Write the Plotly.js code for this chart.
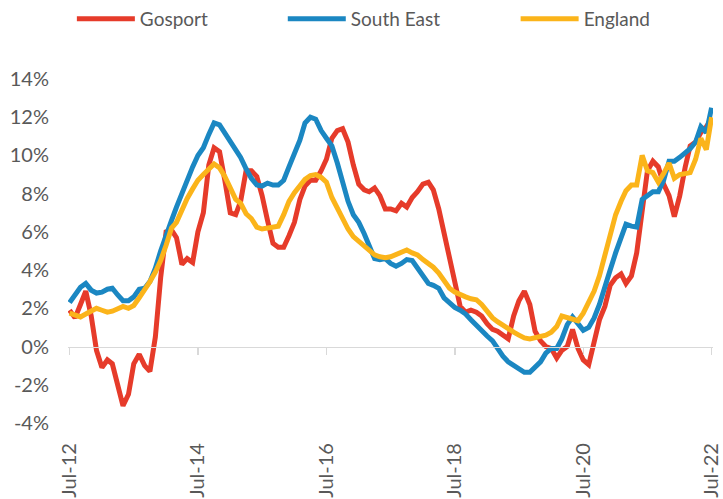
<!DOCTYPE html>
<html><head><meta charset="utf-8">
<script src="https://cdn.plot.ly/plotly-3.0.1.min.js"></script>
<style>html,body{margin:0;padding:0;background:#fff;} #chart{width:723px;height:499px;}</style>
</head><body><div id="chart"></div>
<script>
// Monthly categories Jul-2012 .. Jul-2022
const startYear = 2012, startMonth = 7, nMonths = 121;
const months = [];
for (let k = 0; k < nMonths; k++) {
  const m0 = startMonth - 1 + k;
  const y = startYear + Math.floor(m0 / 12);
  const m = (m0 % 12) + 1;
  months.push(y + '-' + String(m).padStart(2, '0') + '-01');
}

const gosport = [1.9,1.5,2.2,2.9,1.6,-0.2,-1.1,-0.7,-0.9,-2.0,-3.1,-2.5,-0.9,-0.4,-1.0,-1.3,0.5,3.6,6.0,6.1,
  5.7,4.3,4.6,4.4,6.0,7.0,9.5,10.4,10.2,8.7,7.0,6.9,7.6,9.2,9.2,8.9,7.9,6.6,5.4,5.2,
  5.2,5.8,6.5,7.7,8.4,8.7,8.7,9.2,9.8,10.9,11.3,11.4,10.7,9.5,8.5,8.2,8.1,8.3,7.9,7.2,
  7.2,7.1,7.5,7.3,7.8,8.1,8.5,8.6,8.2,7.2,6.0,4.6,3.3,2.1,1.8,1.9,1.8,1.6,1.2,0.9,
  0.8,0.6,0.4,1.6,2.4,2.9,2.2,0.8,0.3,0.0,-0.1,-0.6,-0.2,0.0,0.9,-0.1,-0.7,-0.95,0.2,1.4,
  2.1,3.2,3.6,3.8,3.3,3.7,4.9,6.9,9.2,9.7,9.4,8.5,7.9,6.8,7.9,9.4,10.5,10.7,11.2,11.5,11.9];

const southEast = [2.3,2.7,3.1,3.3,2.95,2.8,2.85,3.0,3.05,2.7,2.4,2.4,2.6,3.0,3.05,3.4,4.1,5.0,5.9,6.6,
  7.3,8.0,8.8,9.4,10.0,10.4,11.1,11.7,11.6,11.2,10.7,10.3,9.9,9.3,8.8,8.45,8.4,8.55,8.45,8.45,
  8.7,9.4,10.1,10.8,11.7,12.0,11.9,11.3,10.9,10.5,9.6,8.5,7.6,6.9,6.5,5.9,5.2,4.6,4.55,4.6,
  4.35,4.2,4.35,4.55,4.5,4.1,3.6,3.3,3.2,3.05,2.55,2.3,2.05,1.9,1.7,1.4,1.1,0.8,0.55,0.3,
  -0.1,-0.5,-0.8,-1.0,-1.2,-1.35,-1.35,-1.1,-0.8,-0.35,-0.1,-0.1,0.4,1.15,1.55,1.2,0.85,1.0,1.5,2.2,
  3.2,4.0,4.9,5.6,6.4,6.3,6.25,7.7,7.9,8.1,8.1,8.7,9.7,9.7,9.9,10.1,10.35,10.7,11.5,11.2,12.5];

const england = [1.75,1.65,1.55,1.7,1.85,2.0,1.9,1.8,1.85,1.95,2.1,2.0,2.15,2.55,2.95,3.4,3.9,4.5,5.3,6.2,
  6.5,7.2,7.75,8.25,8.7,9.0,9.3,9.55,9.35,8.9,8.3,7.7,7.5,6.95,6.7,6.25,6.15,6.2,6.2,6.3,
  6.9,7.6,8.05,8.4,8.75,8.95,9.0,8.85,8.6,7.8,7.2,6.6,6.15,5.75,5.5,5.3,5.0,4.8,4.7,4.65,
  4.7,4.8,4.9,5.05,4.9,4.8,4.55,4.35,4.15,3.85,3.5,3.05,2.85,2.7,2.6,2.5,2.45,2.2,1.8,1.5,
  1.3,1.1,0.95,0.75,0.6,0.45,0.4,0.45,0.5,0.6,0.75,1.05,1.6,1.5,1.4,1.35,1.75,2.3,2.9,3.7,
  4.8,5.8,6.9,7.6,8.15,8.45,8.45,10.0,9.2,9.1,8.6,9.05,9.6,8.8,9.0,9.05,9.1,9.8,10.9,10.3,12.0];

const seriesNames = ['Gosport', 'South East', 'England'];
const seriesColors = ['#e63b2a', '#1b87c2', '#fbb41a'];
const xTickVals = ['2012-07-01','2014-07-01','2016-07-01','2018-07-01','2020-07-01','2022-07-01'];
const xTickText = ['Jul-12','Jul-14','Jul-16','Jul-18','Jul-20','Jul-22'];
const yTickVals = [-4,-2,0,2,4,6,8,10,12,14];
const yTickText = ['-4%','-2%','0%','2%','4%','6%','8%','10%','12%','14%'];

const seriesData = [gosport, southEast, england];
const legendIds = ['legend', 'legend2', 'legend3'];
const traces = seriesData.map((vals, i) => ({
  type: 'scatter', mode: 'lines', x: months, y: vals, name: seriesNames[i],
  legend: legendIds[i],
  line: {color: seriesColors[i], width: 5, shape: 'linear'},
  hoverinfo: 'skip'
}));

function legendBox(xp) {
  return {orientation: 'h', x: xp, y: 1.1744, xanchor: 'left', yanchor: 'middle',
    bgcolor: 'rgba(0,0,0,0)', borderwidth: 0, itemwidth: 58,
    font: {family: 'Lato, sans-serif', size: 19, color: '#595959'}};
}

const layout = {
  width: 723, height: 499,
  margin: {l: 68, r: 10, t: 79, b: 76, pad: 0, autoexpand: false},
  paper_bgcolor: '#ffffff', plot_bgcolor: '#ffffff',
  font: {family: 'Lato, sans-serif', size: 20, color: '#595959'},
  showlegend: true,
  legend: legendBox(0.006),
  legend2: legendBox(0.333),
  legend3: legendBox(0.694),
  xaxis: {
    type: 'date', range: ['2012-06-22', '2022-07-09'],
    anchor: 'free', position: 4 / 18,
    showline: true, linecolor: '#d9d9d9', linewidth: 1.5,
    ticks: 'outside', ticklen: 7, tickwidth: 1.5, tickcolor: '#d9d9d9',
    tickvals: xTickVals, ticktext: xTickText, tickangle: -90,
    ticklabelstandoff: 80, showgrid: false, zeroline: false, automargin: false,
    tickfont: {family: 'Lato, sans-serif', size: 20, color: '#595959'}
  },
  yaxis: {
    range: [-4, 14], tickvals: yTickVals, ticktext: yTickText,
    showgrid: false, zeroline: false, showline: false, ticks: '',
    ticklabelstandoff: 18, automargin: false,
    tickfont: {family: 'Lato, sans-serif', size: 20, color: '#595959'}
  }
};

Plotly.newPlot('chart', traces, layout, {displayModeBar: false, staticPlot: true});
</script>
</body></html>
